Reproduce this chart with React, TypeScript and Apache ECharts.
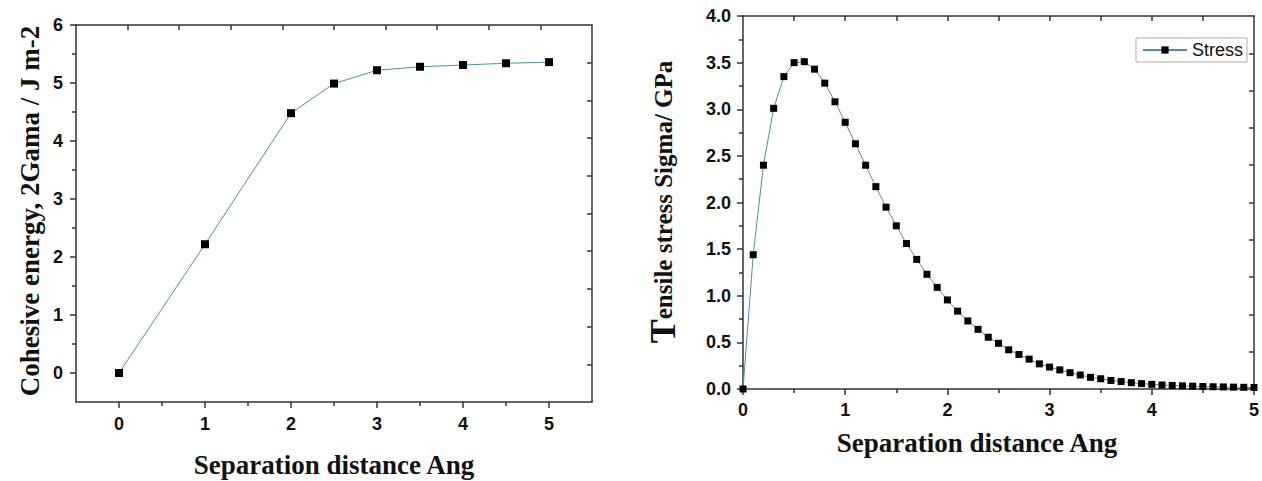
import React, { useEffect, useRef } from "react";
import * as echarts from "echarts";

const energyX = [0, 1, 2, 2.5, 3, 3.5, 4, 4.5, 5];
const energyY = [0, 2.22, 4.48, 4.99, 5.22, 5.28, 5.31, 5.34, 5.36];

const stressX = [
  0, 0.1, 0.2, 0.3, 0.4, 0.5, 0.6, 0.7, 0.8, 0.9,
  1.0, 1.1, 1.2, 1.3, 1.4, 1.5, 1.6, 1.7, 1.8, 1.9,
  2.0, 2.1, 2.2, 2.3, 2.4, 2.5, 2.6, 2.7, 2.8, 2.9,
  3.0, 3.1, 3.2, 3.3, 3.4, 3.5, 3.6, 3.7, 3.8, 3.9,
  4.0, 4.1, 4.2, 4.3, 4.4, 4.5, 4.6, 4.7, 4.8, 4.9, 5.0,
];
const stressY = [
  0, 1.44, 2.4, 3.01, 3.35, 3.5, 3.51, 3.43, 3.28, 3.08,
  2.86, 2.63, 2.4, 2.17, 1.95, 1.75, 1.56, 1.39, 1.23, 1.09,
  0.955, 0.835, 0.73, 0.64, 0.555, 0.49, 0.42, 0.37, 0.32, 0.27,
  0.235, 0.205, 0.175, 0.15, 0.125, 0.11, 0.092, 0.08, 0.068, 0.058,
  0.05, 0.043, 0.038, 0.034, 0.03, 0.027, 0.024, 0.022, 0.02, 0.018, 0.016,
];

// tick labels / tick positions
const leftXMajor = [0, 1, 2, 3, 4, 5];
const leftXMinor = [0.5, 1.5, 2.5, 3.5, 4.5];
const leftYMajor = [0, 1, 2, 3, 4, 5, 6];
const leftYMinor = [0.5, 1.5, 2.5, 3.5, 4.5, 5.5];
const leftTopMirror = [0.1, 0.7, 1.3, 1.9, 2.5, 3.1, 3.7, 4.3, 4.9];
const leftRightMirror = [0.15, 0.8, 1.45, 2.1, 2.75, 3.4, 4.05, 4.7, 5.35];
const rightTopMirror = [0.5, 1, 1.5, 2, 2.5, 3, 3.5, 4, 4.5];
const rightRightMirror = [0.4, 0.8, 1.2, 1.6, 2.0, 2.4, 2.8, 3.2, 3.6];

const AXIS = "#333";
const LINE = "#4f8fa8";
const TXT = "#111";
const SANS = "'Liberation Sans', Arial, sans-serif";
const SERIF = "'Liberation Serif', 'Times New Roman', serif";

const lineStyle = { color: AXIS, width: 1.5 };
const axisLine = { show: true, onZero: false, lineStyle };
const labelStyle = { fontFamily: SANS, fontWeight: "bold" as const, fontSize: 18, color: TXT };

export default function App() {
  const ref = useRef<HTMLDivElement>(null);
  useEffect(() => {
    if (!ref.current) return;
    const chart = echarts.init(ref.current, undefined, { renderer: "svg" });
    const option = {
      animation: false,
      backgroundColor: "#fff",
      grid: [
        { left: 76, top: 25, width: 516, height: 377 },
        { left: 743, top: 16, width: 511, height: 373 },
      ],
      legend: {
        data: ["Stress"],
        right: 15,
        top: 38,
        borderColor: "#bba8a2",
        borderWidth: 1,
        padding: [3, 4, 3, 6],
        itemWidth: 44,
        itemHeight: 9,
        itemGap: 6,
        textStyle: { fontFamily: SANS, fontSize: 18, color: TXT },
      },
      xAxis: [
        {
          gridIndex: 0, type: "value", position: "bottom", min: -0.5, max: 5.5,
          axisLine,
          axisTick: { show: true, inside: false, length: 6, customValues: leftXMajor, lineStyle },
          axisLabel: { ...labelStyle, margin: 13, customValues: leftXMajor },
          splitLine: { show: false },
        },
        {
          gridIndex: 0, type: "value", position: "bottom", min: -0.5, max: 5.5,
          axisLine: { show: false, onZero: false },
          axisTick: { show: true, inside: false, length: 4, customValues: leftXMinor, lineStyle },
          axisLabel: { show: false },
          splitLine: { show: false },
        },
        {
          gridIndex: 0, type: "value", position: "top", min: -0.5, max: 5.5,
          axisLine,
          axisTick: { show: true, inside: true, length: 5, customValues: leftTopMirror, lineStyle },
          axisLabel: { show: false },
          splitLine: { show: false },
        },
        {
          gridIndex: 1, type: "value", position: "bottom", min: 0, max: 5, interval: 1,
          axisLine,
          axisTick: { show: true, inside: false, length: 6, lineStyle },
          minorTick: { show: true, splitNumber: 2, length: 4, lineStyle },
          axisLabel: { ...labelStyle, margin: 12 },
          splitLine: { show: false },
          minorSplitLine: { show: false },
        },
        {
          gridIndex: 1, type: "value", position: "top", min: 0, max: 5,
          axisLine,
          axisTick: { show: true, inside: true, length: 5, customValues: rightTopMirror, lineStyle },
          axisLabel: { show: false },
          splitLine: { show: false },
        },
      ],
      yAxis: [
        {
          gridIndex: 0, type: "value", position: "left", min: -0.5, max: 6,
          axisLine,
          axisTick: { show: true, inside: false, length: 6, customValues: leftYMajor, lineStyle },
          axisLabel: { ...labelStyle, margin: 13, customValues: leftYMajor },
          splitLine: { show: false },
        },
        {
          gridIndex: 0, type: "value", position: "left", min: -0.5, max: 6,
          axisLine: { show: false, onZero: false },
          axisTick: { show: true, inside: false, length: 4, customValues: leftYMinor, lineStyle },
          axisLabel: { show: false },
          splitLine: { show: false },
        },
        {
          gridIndex: 0, type: "value", position: "right", min: -0.5, max: 6,
          axisLine,
          axisTick: { show: true, inside: true, length: 5, customValues: leftRightMirror, lineStyle },
          axisLabel: { show: false },
          splitLine: { show: false },
        },
        {
          gridIndex: 1, type: "value", position: "left", min: 0, max: 4, interval: 0.5,
          axisLine,
          axisTick: { show: true, inside: false, length: 6, lineStyle },
          minorTick: { show: true, splitNumber: 2, length: 4, lineStyle },
          axisLabel: { ...labelStyle, margin: 12, formatter: (v: number) => v.toFixed(1) },
          splitLine: { show: false },
          minorSplitLine: { show: false },
        },
        {
          gridIndex: 1, type: "value", position: "right", min: 0, max: 4,
          axisLine,
          axisTick: { show: true, inside: true, length: 5, customValues: rightRightMirror, lineStyle },
          axisLabel: { show: false },
          splitLine: { show: false },
        },
      ],
      series: [
        {
          name: "Cohesive energy",
          type: "line",
          xAxisIndex: 0,
          yAxisIndex: 0,
          data: energyX.map((x, i) => [x, energyY[i]]),
          symbol: "rect",
          symbolSize: 8,
          itemStyle: { color: "#000" },
          lineStyle: { color: LINE, width: 1 },
        },
        {
          name: "Stress",
          type: "line",
          xAxisIndex: 3,
          yAxisIndex: 3,
          data: stressX.map((x, i) => [x, stressY[i]]),
          symbol: "rect",
          symbolSize: 7,
          itemStyle: { color: "#000" },
          lineStyle: { color: LINE, width: 1 },
        },
      ],
      graphic: [
        {
          type: "text", x: 30, y: 211, rotation: Math.PI / 2,
          style: {
            text: "Cohesive energy, 2Gama / J m-2",
            fontFamily: SERIF, fontSize: 27, fontWeight: "bold", fill: TXT,
            align: "center", verticalAlign: "middle",
          },
        },
        {
          type: "text", x: 334, y: 465,
          style: {
            text: "Separation distance Ang",
            fontFamily: SERIF, fontSize: 27, fontWeight: "bold", fill: TXT,
            align: "center", verticalAlign: "middle",
          },
        },
        {
          type: "text", x: 977, y: 443,
          style: {
            text: "Separation distance Ang",
            fontFamily: SERIF, fontSize: 27, fontWeight: "bold", fill: TXT,
            align: "center", verticalAlign: "middle",
          },
        },
        {
          type: "text", x: 663, y: 202, rotation: Math.PI / 2,
          style: {
            text: "{t|T}ensile stress Sigma/ GPa",
            fontFamily: SERIF, fontSize: 25, fontWeight: "bold", fill: TXT,
            align: "center", verticalAlign: "middle",
            rich: {
              t: { fontFamily: SERIF, fontSize: 36, fontWeight: "bold", fill: TXT },
            },
          },
        },
      ],
    };
    chart.setOption(option as any);
    return () => chart.dispose();
  }, []);
  return (
    <div
      ref={ref}
      style={{ position: "absolute", left: 0, top: 0, width: 1262, height: 481 }}
    />
  );
}
